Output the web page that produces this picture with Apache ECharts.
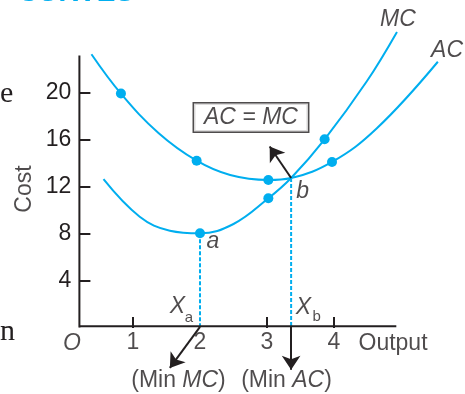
<!DOCTYPE html>
<html>
<head>
<meta charset="utf-8">
<script src="https://cdn.jsdelivr.net/npm/echarts@6/dist/echarts.min.js"></script>
<style>
html,body{margin:0;padding:0;background:#fff;}
#chart{width:465px;height:394px;}
</style>
</head>
<body>
<div id="chart"></div>
<script>
// ---- data ----
const outputTickLabels = [1, 2, 3, 4];
const outputTickMarks = [1, 3, 4];
const costTicks = [4, 8, 12, 16, 20];

const acCurveX = [0.38, 0.82, 1.38, 1.95, 2.45, 3.02, 3.36, 3.97, 4.64, 5.55];
const acCurveY = [23.3, 19.95, 16.6, 14.24, 13.02, 12.6, 12.77, 14.13, 17.0, 22.66];

const mcCurveX = [0.56, 1.10, 1.55, 2.0, 2.5, 3.02, 3.36, 3.86, 4.49, 4.94];
const mcCurveY = [12.66, 9.47, 8.28, 8.06, 8.85, 11.04, 12.77, 16.06, 21.0, 25.2];

const acDotX = [0.82, 1.95, 3.02, 3.97];
const acDotY = [19.95, 14.24, 12.6, 14.13];
const mcDotX = [2.0, 3.02, 3.86];
const mcDotY = [8.06, 11.04, 16.06];

const minMC = [2.0, 8.06];   // point a
const minAC = [3.36, 12.77]; // point b

const xAxisEnd = 4.93;
const yAxisEnd = 23.2;

// ---- styles ----
const CYAN = '#00aeef';
const DARK = '#231f20';
const FONT = "'Liberation Sans', Arial, Helvetica, sans-serif";
const FS = 23;

const zip = (xs, ys) => xs.map((x, i) => [x, ys[i]]);

const rich = {
  i: { fontStyle: 'italic', fontSize: FS, color: DARK, fontFamily: FONT },
  r: { fontSize: FS, color: DARK, fontFamily: FONT },
  s: { fontSize: 15, color: DARK, fontFamily: FONT }
};
function note(x, y, text, extra) {
  return {
    value: [x, y],
    label: Object.assign({
      show: true, position: 'inside', formatter: text, rich: rich,
      color: DARK, fontFamily: FONT, fontSize: FS
    }, extra || {})
  };
}

const axisBase = 0.15;
const xLabelRow = -1.27;

const option = {
  animation: false,
  backgroundColor: '#fff',
  title: [
    { text: 'CURVES', left: 18, top: -21, padding: 0,
      textStyle: { color: CYAN, fontSize: 28, fontWeight: 'bold', fontFamily: FONT } },
    { text: 'e', left: 0, top: 79, padding: 0,
      textStyle: { color: DARK, fontSize: 30, fontWeight: 'normal', fontFamily: "'Liberation Serif', 'DejaVu Serif', serif" } },
    { text: 'n', left: 0, top: 317, padding: 0,
      textStyle: { color: DARK, fontSize: 30, fontWeight: 'normal', fontFamily: "'Liberation Serif', 'DejaVu Serif', serif" } }
  ],
  grid: { left: 79.4, right: 3.7, top: 10.75, bottom: 7.25, containLabel: false, outerBoundsMode: 'none' },
  xAxis: {
    type: 'value', min: 0.2, max: 5.9,
    axisLine: { show: true, onZero: true, lineStyle: { color: 'rgba(0,0,0,0)', width: 0 } },
    splitLine: { show: false },
    axisTick: { show: true, inside: true, length: 11, customValues: outputTickMarks,
      lineStyle: { color: DARK, width: 2 } },
    axisLabel: { show: false }
  },
  yAxis: {
    type: 'value', min: -5, max: 27,
    axisLine: { show: false },
    splitLine: { show: false },
    axisTick: { show: true, inside: true, length: 11, customValues: costTicks,
      lineStyle: { color: DARK, width: 2 } },
    axisLabel: { customValues: costTicks, color: DARK, fontSize: FS, fontFamily: FONT, margin: 8 }
  },
  series: [
    { type: 'line', name: 'axes-x', data: [[0.2, axisBase], [xAxisEnd, axisBase]],
      showSymbol: false, symbol: 'none', lineStyle: { color: DARK, width: 2 }, silent: true, z: 3,
      markLine: {
        silent: true, symbol: ['none', 'arrow'], symbolSize: 14,
        label: { show: false },
        lineStyle: { color: DARK, width: 2, type: 'solid' },
        data: [
          [{ coord: [minAC[0], minAC[1]] }, { coord: [3.04, 15.45] }],
          [{ coord: [minMC[0], 0.1] }, { coord: [1.55, -3.4] }],
          [{ coord: [minAC[0], 0.1] }, { coord: [minAC[0], -3.55] }]
        ]
      } },
    { type: 'line', name: 'axes-y', data: [[0.2, axisBase - 0.1], [0.2, yAxisEnd]],
      showSymbol: false, symbol: 'none', lineStyle: { color: DARK, width: 2 }, silent: true, z: 3 },
    { type: 'line', name: 'guide-a', data: [[minMC[0], minMC[1]], [minMC[0], axisBase]],
      showSymbol: false, symbol: 'none', lineStyle: { color: CYAN, width: 2, type: [4, 2] }, silent: true, z: 2 },
    { type: 'line', name: 'guide-b', data: [[minAC[0], minAC[1]], [minAC[0], axisBase]],
      showSymbol: false, symbol: 'none', lineStyle: { color: CYAN, width: 2, type: [4, 2] }, silent: true, z: 2 },
    { type: 'line', name: 'AC', data: zip(acCurveX, acCurveY), smooth: 0.4,
      showSymbol: false, symbol: 'none', lineStyle: { color: CYAN, width: 2 }, clip: false, z: 4 },
    { type: 'line', name: 'MC', data: zip(mcCurveX, mcCurveY), smooth: 0.4,
      showSymbol: false, symbol: 'none', lineStyle: { color: CYAN, width: 2 }, clip: false, z: 4 },
    { type: 'scatter', name: 'AC dots', data: zip(acDotX, acDotY), symbolSize: 10,
      itemStyle: { color: CYAN, opacity: 1 }, z: 5 },
    { type: 'scatter', name: 'MC dots', data: zip(mcDotX, mcDotY), symbolSize: 10,
      itemStyle: { color: CYAN, opacity: 1 }, z: 5 },
    { type: 'scatter', name: 'x tick labels', symbolSize: 1, clip: false, silent: true, z: 10,
      itemStyle: { color: 'rgba(0,0,0,0)' },
      data: outputTickLabels.map(v => note(v, xLabelRow, '{r|' + v + '}')) },
    { type: 'scatter', name: 'notes', symbolSize: 1, clip: false, silent: true, z: 10,
      itemStyle: { color: 'rgba(0,0,0,0)' },
      data: [
        note(4.955, 26.26, '{i|MC}'),
        note(5.687, 23.57, '{i|AC}'),
        note(2.761, 17.91, '{i|AC = MC}', { backgroundColor: '#fff', borderColor: DARK, borderWidth: 1.5, padding: [3, 10, 2, 10] }),
        note(2.194, 7.34, '{i|a}'),
        note(3.533, 11.6, '{i|b}'),
        note(1.664, 1.83, '{i|X}'),
        note(1.836, 0.87, '{s|a}'),
        note(3.542, 1.74, '{i|X}'),
        note(3.741, 0.96, '{s|b}'),
        note(0.09, -1.3, '{i|O}'),
        note(1.679, -4.51, '{r|(Min }{i|MC}{r|)}'),
        note(3.291, -4.51, '{r|(Min }{i|AC}{r|)}'),
        note(4.881, -1.36, '{r|Output}'),
        note(-0.62, 11.83, '{r|Cost}', { rotate: 90 })
      ] }
  ]
};

const chart = echarts.init(document.getElementById('chart'), null, { renderer: 'canvas' });
chart.setOption(option);
</script>
</body>
</html>
